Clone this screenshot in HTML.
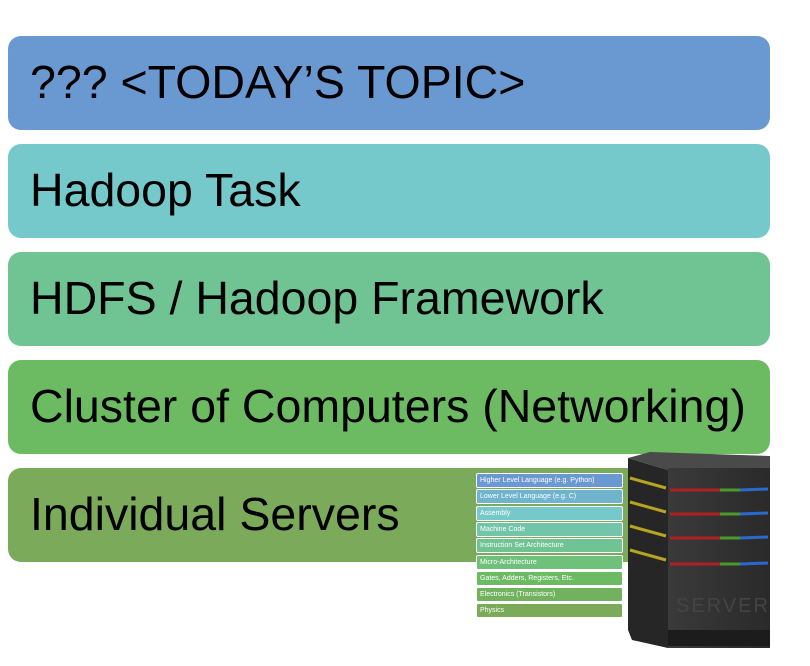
<!DOCTYPE html>
<html><head><meta charset="utf-8"><style>
body{margin:0;width:810px;height:666px;background:#fff;position:relative;overflow:hidden;font-family:"Liberation Sans",sans-serif}
.bar{position:absolute;left:8px;width:762px;height:94px;border-radius:13px}
.bar span{position:absolute;left:22px;top:19px;font-size:46.5px;color:#000;white-space:nowrap}
.s{position:absolute;left:476px;width:147px;border:1px solid #fff;border-radius:2px;font-size:7px;color:#fff;line-height:13px;padding-left:3px;box-sizing:border-box;height:15px}
</style></head><body>
<div class="bar" style="top:36px;background:#6a98d0"><span>??? &lt;TODAY’S TOPIC&gt;</span></div>
<div class="bar" style="top:144px;background:#76c9cb"><span>Hadoop Task</span></div>
<div class="bar" style="top:252px;background:#70c392"><span>HDFS / Hadoop Framework</span></div>
<div class="bar" style="top:360px;background:#6cbb63"><span>Cluster of Computers (Networking)</span></div>
<div class="bar" style="top:468px;background:#7aaa5a"><span>Individual Servers</span></div>

<div class="s" style="top:473px;background:#6a98d0">Higher Level Language (e.g. Python)</div>
<div class="s" style="top:489px;background:#6fb3cd">Lower Level Language (e.g. C)</div>
<div class="s" style="top:506px;background:#76c9cb">Assembly</div>
<div class="s" style="top:522px;background:#72c5a8">Machine Code</div>
<div class="s" style="top:538px;background:#70c392">Instruction Set Architecture</div>
<div class="s" style="top:555px;background:#6ec07a">Micro-Architecture</div>
<div class="s" style="top:571px;background:#6cbb63">Gates, Adders, Registers, Etc.</div>
<div class="s" style="top:587px;background:#72b25e">Electronics (Transistors)</div>
<div class="s" style="top:603px;background:#7aaa5a">Physics</div>

<svg style="position:absolute;left:0;top:0" width="810" height="666">
<defs><linearGradient id="f" x1="0" x2="1"><stop offset="0" stop-color="#3a3a3a"/><stop offset="1" stop-color="#2a2a2a"/></linearGradient></defs>
<polygon points="628,458 668,470 668,648 632,640 628,630" fill="#262626"/>
<polygon points="628,458 650,452 770,456 770,470 668,470" fill="#4a4a4a"/>
<rect x="668" y="468" width="102" height="180" fill="url(#f)"/>
<rect x="668" y="630" width="102" height="16" fill="#1c1c1c"/>
<g stroke-width="3">
<line x1="630" y1="478" x2="666" y2="488" stroke="#b8a420"/>
<line x1="630" y1="502" x2="666" y2="512" stroke="#b8a420"/>
<line x1="630" y1="526" x2="666" y2="536" stroke="#b8a420"/>
<line x1="630" y1="550" x2="666" y2="560" stroke="#b8a420"/>
<line x1="670" y1="490" x2="720" y2="490" stroke="#b02020"/><line x1="720" y1="490" x2="740" y2="490" stroke="#4a9a2a"/><line x1="740" y1="490" x2="768" y2="489" stroke="#2a6ad0"/>
<line x1="670" y1="514" x2="720" y2="514" stroke="#b02020"/><line x1="720" y1="514" x2="740" y2="514" stroke="#4a9a2a"/><line x1="740" y1="514" x2="768" y2="513" stroke="#2a6ad0"/>
<line x1="670" y1="538" x2="720" y2="538" stroke="#b02020"/><line x1="720" y1="538" x2="740" y2="538" stroke="#4a9a2a"/><line x1="740" y1="538" x2="768" y2="537" stroke="#2a6ad0"/>
<line x1="670" y1="564" x2="720" y2="564" stroke="#b02020"/><line x1="720" y1="564" x2="740" y2="564" stroke="#4a9a2a"/><line x1="740" y1="564" x2="768" y2="563" stroke="#2a6ad0"/>
</g>
<text x="676" y="612" font-family="Liberation Sans" font-size="20" fill="#444" letter-spacing="2">SERVER</text>
</svg>
</body></html>
